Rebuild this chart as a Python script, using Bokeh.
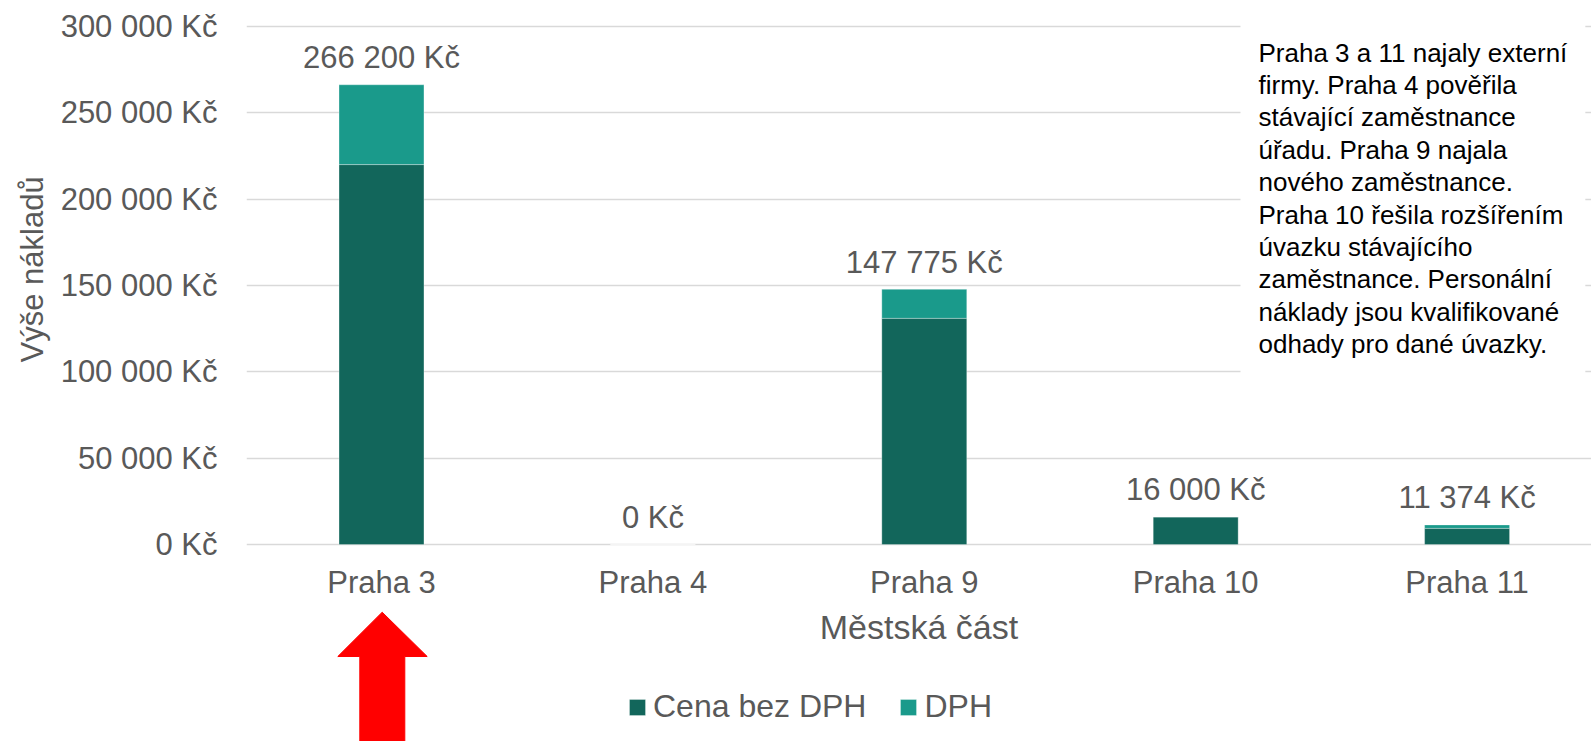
from bokeh.plotting import figure
from bokeh.models import (ColumnDataSource, Range1d, FixedTicker, Legend, LegendItem,
                          Label, PolyAnnotation, Title)
from bokeh.core.properties import value
from bokeh.embed import file_html
from bokeh.resources import INLINE

# ---- data ----
categories = ["Praha 3", "Praha 4", "Praha 9", "Praha 10", "Praha 11"]
cena_bez_dph = [220000, 0, 131000, 16000, 9400]
dph = [46200, 0, 16775, 0, 1974]
totals = [266200, 0, 147775, 16000, 11374]
series_names = ["Cena bez DPH", "DPH"]
y_ticks = [0, 50000, 100000, 150000, 200000, 250000, 300000]
y_tick_labels = ["0 Kč", "50 000 Kč", "100 000 Kč", "150 000 Kč",
                 "200 000 Kč", "250 000 Kč", "300 000 Kč"]
x_title = "Městská část"
y_title = "Výše nákladů"
note_lines = [
    "Praha 3 a 11 najaly externí",
    "firmy. Praha 4 pověřila",
    "stávající zaměstnance",
    "úřadu. Praha 9 najala",
    "nového zaměstnance.",
    "Praha 10 řešila rozšířením",
    "úvazku stávajícího",
    "zaměstnance. Personální",
    "náklady jsou kvalifikované",
    "odhady pro dané úvazky.",
]

FONT = "Liberation Sans"
GREY = "#595959"
C_BASE = "#12665b"
C_DPH = "#1a9a8b"

W, H = 1591, 741
LEFT = 246


def fmt(v):
    return f"{v:,}".replace(",", " ") + " Kč"


xs = list(range(len(categories)))
source = ColumnDataSource(dict(
    x=xs, base=cena_bez_dph, dph=dph, total=totals,
    label=[fmt(v) for v in totals],
))

X0, X1 = -0.4974, 4.4584
Y0, Y1 = -114000, 315000
p = figure(width=W, height=H, output_backend="svg", toolbar_location=None,
           x_range=Range1d(X0, X1), y_range=Range1d(Y0, Y1),
           min_border_left=LEFT, min_border_right=0, min_border_top=0,
           min_border_bottom=0)
p.outline_line_color = None
p.background_fill_color = "white"

bars = p.vbar_stack(["base", "dph"], x="x", width=0.313, color=[C_BASE, C_DPH],
                    line_color="white", line_width=0.6, line_alpha=0.5,
                    source=source)

p.text(x="x", y="total", text="label", source=source, text_align="center",
       text_baseline="middle", y_offset=-27, text_font=value(FONT),
       text_font_size="31px", text_color=GREY)

# axes
p.xgrid.grid_line_color = None
p.ygrid.ticker = FixedTicker(ticks=y_ticks)
p.ygrid.grid_line_color = "#d9d9d9"
p.ygrid.grid_line_width = 1.5

p.yaxis.ticker = FixedTicker(ticks=y_ticks)
p.yaxis.major_label_overrides = {t: l for t, l in zip(y_ticks, y_tick_labels)}
p.xaxis.ticker = FixedTicker(ticks=xs)
p.xaxis.major_label_overrides = {i: c for i, c in zip(xs, categories)}
p.xaxis.fixed_location = 0
for ax in (p.xaxis[0], p.yaxis[0]):
    ax.axis_line_color = None
    ax.major_tick_line_color = None
    ax.minor_tick_line_color = None
    ax.major_tick_out = 0
    ax.major_tick_in = 0
    ax.major_label_text_font = FONT
    ax.major_label_text_font_size = "31px"
    ax.major_label_text_color = GREY
    ax.axis_label_text_font = FONT
    ax.axis_label_text_font_size = "34px"
    ax.axis_label_text_font_style = "normal"
    ax.axis_label_text_color = GREY
p.yaxis.major_label_standoff = 29
p.xaxis.major_label_standoff = 20
p.xaxis.axis_label = x_title
p.xaxis.axis_label_standoff = 5

# y axis title (placed like the reference, above the frame centre)
p.add_layout(Title(text=y_title, align="left", offset=H - 362,
                   text_font=FONT, text_font_size="31px",
                   text_font_style="normal", text_color=GREY, standoff=16),
             "left")

# legend
legend = Legend(items=[LegendItem(label=series_names[0], renderers=[bars[0]]),
                       LegendItem(label=series_names[1], renderers=[bars[1]])],
                orientation="horizontal", location=(381, 16), padding=0, margin=0,
                spacing=32, label_standoff=6, glyph_width=20, glyph_height=20,
                label_text_font=FONT, label_text_font_size="32px",
                label_text_color=GREY, border_line_color=None,
                background_fill_alpha=0)
p.add_layout(legend)

# note box
p.add_layout(Label(x=1240 - LEFT, y=H - 19, x_units="screen", y_units="screen",
                   text="\n".join(note_lines), text_font=FONT,
                   text_font_size="26px", text_color="black",
                   text_line_height=1.08, text_baseline="top", text_align="left",
                   background_fill_color="white", padding=18))


# red arrow below Praha 3 (pixel geometry converted to data space)
def dx(px):
    return X0 + (px - LEFT) / (W - LEFT) * (X1 - X0)


def dy(py):
    return Y1 - py / H * (Y1 - Y0)


ax_px = [381.7, 426.7, 404.3, 404.3, 359.3, 359.3, 337.3]
ay_px = [611.7, 656, 656, 760, 760, 656, 656]
p.add_layout(PolyAnnotation(xs=[dx(v) for v in ax_px], ys=[dy(v) for v in ay_px],
                            fill_color="#ff0000", fill_alpha=1,
                            line_color="#ff0000", line_alpha=1, level="overlay"))

open("out.html", "w", encoding="utf-8").write(file_html(p, INLINE))
